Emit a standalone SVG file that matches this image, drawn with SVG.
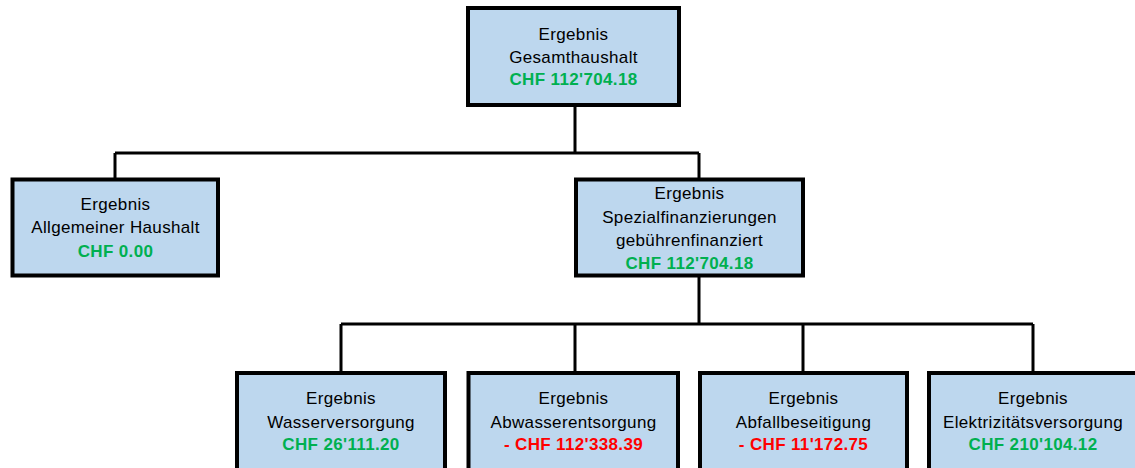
<svg xmlns="http://www.w3.org/2000/svg" width="1135" height="468" viewBox="0 0 1135 468">
<style>
.box{fill:#BDD7EE;stroke:#000;stroke-width:4}
.t{font-family:"Liberation Sans",Arial,sans-serif;font-size:17px;letter-spacing:0.35px;text-anchor:middle;fill:#000}
.pos{font-weight:bold;fill:#00B050}
.neg{font-weight:bold;fill:#FF0000}
.c{fill:none;stroke:#000;stroke-width:3}
</style>
<rect width="1135" height="468" fill="#fff"/>
<g id="connectors">
<path class="c" d="M575,105 V153 M115,153 H699 M115,153 V178 M699,153 V178"/>
<path class="c" d="M699,276 V324 M341,324 H1033 M341,324 V372 M575,324 V372 M803,324 V372 M1033,324 V372"/>
</g>
<g id="gesamt">
<rect class="box" x="468" y="8" width="211" height="97"/>
<text class="t" x="573.5" y="39.5">Ergebnis</text>
<text class="t" x="573.5" y="63">Gesamthaushalt</text>
<text class="t pos" x="573.5" y="85">CHF 112'704.18</text>
</g>
<g id="allgemein">
<rect class="box" x="12.5" y="179.5" width="205.5" height="96"/>
<text class="t" x="115.5" y="210">Ergebnis</text>
<text class="t" x="115.5" y="233">Allgemeiner Haushalt</text>
<text class="t pos" x="115.5" y="256.5">CHF 0.00</text>
</g>
<g id="spezial">
<rect class="box" x="576" y="179.5" width="227" height="96"/>
<text class="t" x="689.5" y="199">Ergebnis</text>
<text class="t" x="689.5" y="223">Spezialfinanzierungen</text>
<text class="t" x="689.5" y="245.5">gebührenfinanziert</text>
<text class="t pos" x="689.5" y="268.5">CHF 112'704.18</text>
</g>
<g id="wasser">
<rect class="box" x="237" y="373" width="208" height="100"/>
<text class="t" x="341" y="404">Ergebnis</text>
<text class="t" x="341" y="428">Wasserversorgung</text>
<text class="t pos" x="341" y="450">CHF 26'111.20</text>
</g>
<g id="abwasser">
<rect class="box" x="468.5" y="373" width="209.5" height="100"/>
<text class="t" x="573.5" y="404">Ergebnis</text>
<text class="t" x="573.5" y="428">Abwasserentsorgung</text>
<text class="t neg" x="573.5" y="450">- CHF 112'338.39</text>
</g>
<g id="abfall">
<rect class="box" x="700" y="373" width="207" height="100"/>
<text class="t" x="803.5" y="404">Ergebnis</text>
<text class="t" x="803.5" y="428">Abfallbeseitigung</text>
<text class="t neg" x="803.5" y="450">- CHF 11'172.75</text>
</g>
<g id="elektrizitaet">
<rect class="box" x="929" y="373" width="208" height="100"/>
<text class="t" x="1033" y="404">Ergebnis</text>
<text class="t" x="1033" y="428">Elektrizitätsversorgung</text>
<text class="t pos" x="1033" y="450">CHF 210'104.12</text>
</g>
</svg>
